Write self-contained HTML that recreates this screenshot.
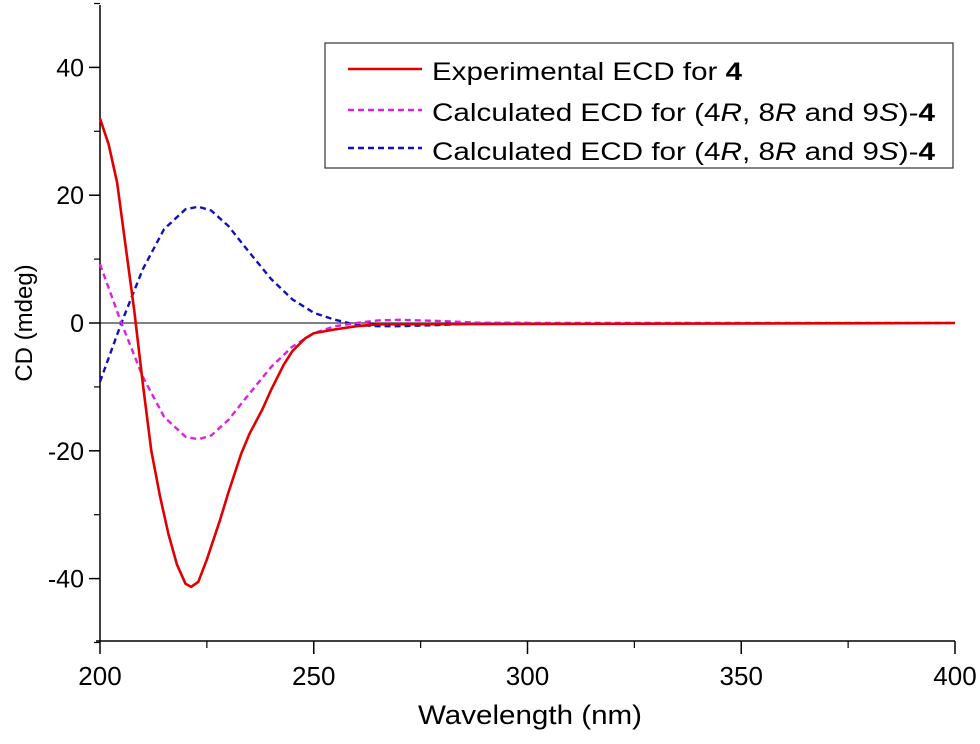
<!DOCTYPE html>
<html><head><meta charset="utf-8"><style>
body{margin:0;background:#fff;}
svg text{font-family:"Liberation Sans",Arial,sans-serif;}
</style></head><body>
<svg width="980" height="739" viewBox="0 0 980 739">
<g id="axes"></g>
<g id="series"></g>
<g>
<rect x="325" y="43" width="628" height="125" fill="#fff" stroke="#333" stroke-width="1.2"/>
<line x1="348" y1="69" x2="422" y2="69" stroke="#e00000" stroke-width="2.5"/>
<text x="432" y="80" font-size="25" textLength="310" lengthAdjust="spacingAndGlyphs">Experimental ECD for <tspan font-weight="bold">4</tspan></text>
<line x1="348" y1="110" x2="422" y2="110" stroke="#e020e0" stroke-width="2.5" stroke-dasharray="6,4"/>
<text x="432" y="121" font-size="25" textLength="503" lengthAdjust="spacingAndGlyphs">Calculated ECD for (4<tspan font-style="italic">R</tspan>, 8<tspan font-style="italic">R</tspan> and 9<tspan font-style="italic">S</tspan>)-<tspan font-weight="bold">4</tspan></text>
<line x1="348" y1="148" x2="422" y2="148" stroke="#1010c0" stroke-width="2.5" stroke-dasharray="6,4"/>
<text x="432" y="160" font-size="25" textLength="503" lengthAdjust="spacingAndGlyphs">Calculated ECD for (4<tspan font-style="italic">R</tspan>, 8<tspan font-style="italic">R</tspan> and 9<tspan font-style="italic">S</tspan>)-<tspan font-weight="bold">4</tspan></text>
</g>
<text x="418" y="724" font-size="27" textLength="224" lengthAdjust="spacingAndGlyphs">Wavelength (nm)</text>
<text transform="translate(32,323) rotate(-90)" font-size="24" text-anchor="middle">CD (mdeg)</text>
</svg>
<script>
const xTicks=[200,250,300,350,400];
const yTicks=[-40,-20,0,20,40];
const expX=[200,202,204,206,208,210,212,214,216,218,220,221.3,223,225,228,230,233,235,238,240,243,245,248,250,255,260,265,400];
const expY=[32,28,22,12,2,-9.4,-20,-27,-33,-37.8,-40.8,-41.3,-40.5,-37,-31,-26.6,-20.5,-17.3,-13.5,-10.5,-6.5,-4.4,-2.4,-1.6,-1.0,-0.5,-0.2,0];
const calc1X=[200,205,210,215,220,223,226,230,235,240,245,250,255,260,265,270,280,290,400];
const calc1Y=[9.2,0,-8.4,-14.7,-17.8,-18.2,-17.6,-15.2,-11,-6.9,-3.7,-1.6,-0.5,0,0.4,0.5,0.3,0,0];
const calc2X=[200,205,210,215,220,223,226,230,235,240,245,250,255,260,265,270,280,290,300];
const calc2Y=[-9.2,0,8.4,14.7,17.8,18.2,17.6,15.2,11,6.9,3.7,1.6,0.5,-0.3,-0.5,-0.5,-0.3,0,0];
const X=v=>100+(v-200)*855/200;
const Y=v=>323-v*6.39;
const NS="http://www.w3.org/2000/svg";
const ax=document.getElementById('axes'),se=document.getElementById('series');
function mk(t,a,p){const e=document.createElementNS(NS,t);for(const k in a)e.setAttribute(k,a[k]);p.appendChild(e);return e;}
let e=mk('line',{x1:100,y1:5,x2:100,y2:641,stroke:'#000','stroke-width':1.5},ax);


e=mk('line',{x1:96,y1:641,x2:955,y2:641,stroke:'#000','stroke-width':1.5},ax);


e=mk('line',{x1:100,y1:Y(0),x2:955,y2:Y(0),stroke:'#000','stroke-width':1},ax);


xTicks.forEach(v=>{
 mk('line',{x1:X(v),y1:641,x2:X(v),y2:654,stroke:'#000','stroke-width':1.5},ax);
 const t=mk('text',{x:X(v),y:685,'font-size':26,'text-anchor':'middle'},ax);t.textContent=v;
 
 
 if(v<400)mk('line',{x1:X(v+25),y1:641,x2:X(v+25),y2:648,stroke:'#000','stroke-width':1.2},ax);
});
yTicks.forEach(v=>{
 mk('line',{x1:89,y1:Y(v),x2:100,y2:Y(v),stroke:'#000','stroke-width':1.5},ax);
 const t=mk('text',{x:84,y:Y(v)+9,'font-size':25,'text-anchor':'end'},ax);t.textContent=v;
 
 
});
[-50,-30,-10,10,30,50].forEach(v=>mk('line',{x1:94,y1:Y(v),x2:100,y2:Y(v),stroke:'#000','stroke-width':1.2},ax));
function line(xs,ys,col,dash,w,name){
 const p=mk('polyline',{points:xs.map((x,i)=>X(x)+','+Y(ys[i])).join(' '),fill:'none',stroke:col,'stroke-width':w,'stroke-dasharray':dash,'stroke-linejoin':'round'},se);
 
 
}
line(calc2X,calc2Y,'#1010c0','6,4',2.4,'calc-ecd-blue');
line(calc1X,calc1Y,'#e020e0','6,4',2.4,'calc-ecd-magenta');
line(expX,expY,'#e00000','none',2.6,'experimental-ecd');
</script>
</body></html>
